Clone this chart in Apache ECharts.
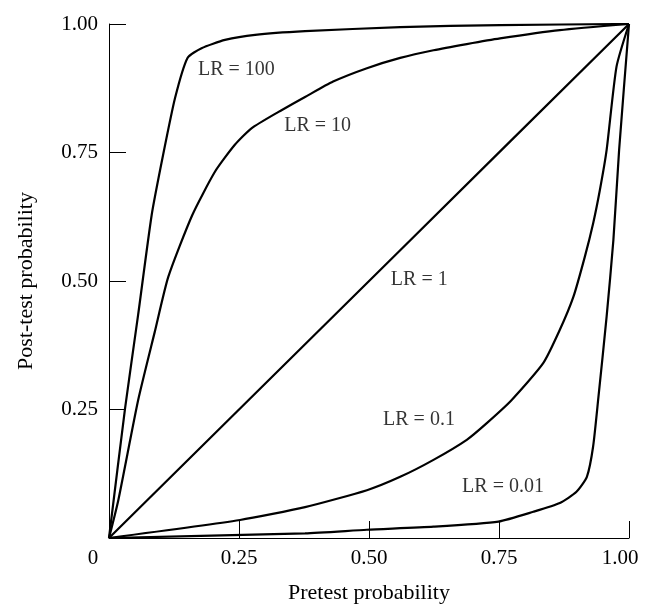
<!DOCTYPE html>
<html>
<head>
<meta charset="utf-8">
<script src="https://cdn.jsdelivr.net/npm/echarts@6/dist/echarts.min.js"></script>
<style>
  html, body { margin: 0; padding: 0; background: #fff; }
  #chart { width: 645px; height: 615px; }
</style>
</head>
<body>
<div id="chart"></div>
<script>
// [pretest, post-test] points
var lr100 = [[0, 0], [0.031, 0.253], [0.056, 0.434], [0.082, 0.628], [0.104, 0.745], [0.127, 0.856],
  [0.151, 0.934], [0.178, 0.953], [0.223, 0.969], [0.281, 0.979], [0.377, 0.986], [0.56, 0.994],
  [0.752, 0.998], [1, 1]];
var lr10 = [[0, 0], [0.018, 0.074], [0.056, 0.268], [0.088, 0.401], [0.114, 0.508], [0.16, 0.628],
  [0.204, 0.713], [0.242, 0.765], [0.274, 0.797], [0.326, 0.829], [0.377, 0.858], [0.431, 0.888],
  [0.496, 0.914], [0.56, 0.934], [0.624, 0.949], [0.688, 0.961], [0.752, 0.972], [0.867, 0.988], [1, 1]];
var lr1 = [[0, 0], [0.27, 0.27], [0.56, 0.56], [1, 1]];
var lr01 = [[0, 0], [0.252, 0.035], [0.377, 0.06], [0.496, 0.093], [0.56, 0.119], [0.624, 0.152],
  [0.688, 0.191], [0.726, 0.223], [0.774, 0.268], [0.835, 0.34], [0.867, 0.405], [0.893, 0.469],
  [0.915, 0.547], [0.931, 0.612], [0.944, 0.677], [0.957, 0.755], [0.976, 0.917], [1, 1]];
var lr001 = [[0, 0], [0.377, 0.009], [0.496, 0.016], [0.624, 0.022], [0.749, 0.032], [0.816, 0.051],
  [0.867, 0.068], [0.899, 0.09], [0.919, 0.119], [0.931, 0.178], [0.941, 0.272], [0.957, 0.431],
  [0.97, 0.58], [0.981, 0.755], [1, 1]];

var labelNames = ["LR = 100", "LR = 10", "LR = 1", "LR = 0.1", "LR = 0.01"];
var labelPos = [[0.171, 0.911], [0.337, 0.803], [0.542, 0.502], [0.527, 0.23], [0.679, 0.099]];

var xTicks = ["0", "0.25", "0.50", "0.75", "1.00"];
var yTicks = ["", "0.25", "0.50", "0.75", "1.00"];

var font = "'Liberation Serif', 'Times New Roman', serif";

var chart = echarts.init(document.getElementById("chart"));

function curve(name, data) {
  return {
    name: name,
    type: "line",
    data: data,
    symbol: "none",
    smooth: 0.2,
    lineStyle: { color: "#000", width: 2.2 },
    z: 3,
  };
}

var option = {
  backgroundColor: "#fff",
  animation: false,
  grid: { left: 109, right: 16, top: 24, bottom: 77 },
  xAxis: {
    type: "value",
    min: 0,
    max: 1,
    interval: 0.25,
    name: "Pretest probability",
    nameLocation: "middle",
    nameGap: 44,
    nameTextStyle: { color: "#000", fontFamily: font, fontSize: 22 },
    axisLine: { lineStyle: { color: "#000", width: 1 } },
    axisTick: { inside: true, length: 17, lineStyle: { color: "#000", width: 1 } },
    splitLine: { show: false },
    axisLabel: {
      margin: 10,
      color: "#000",
      fontFamily: font,
      fontSize: 21,
      formatter: function (v) {
        var t = xTicks[Math.round(v * 4)];
        if (v === 0) return "{l|" + t + "}";
        if (v === 1) return "{r|" + t + "}";
        return t;
      },
      rich: {
        l: { fontFamily: font, fontSize: 21, color: "#000", padding: [0, 32, 0, 0] },
        r: { fontFamily: font, fontSize: 21, color: "#000", padding: [0, 18, 0, 0] },
      },
    },
  },
  yAxis: {
    type: "value",
    min: 0,
    max: 1,
    interval: 0.25,
    name: "Post-test probability",
    nameLocation: "middle",
    nameGap: 72,
    nameTextStyle: { color: "#000", fontFamily: font, fontSize: 22 },
    axisLine: { show: true, lineStyle: { color: "#000", width: 1 } },
    axisTick: { show: true, inside: true, length: 17, lineStyle: { color: "#000", width: 1 } },
    splitLine: { show: false },
    axisLabel: {
      margin: 11,
      color: "#000",
      fontFamily: font,
      fontSize: 21,
      formatter: function (v) {
        return yTicks[Math.round(v * 4)];
      },
    },
  },
  series: [
    curve("LR = 100", lr100),
    curve("LR = 10", lr10),
    curve("LR = 1", lr1),
    curve("LR = 0.1", lr01),
    curve("LR = 0.01", lr001),
    {
      name: "labels",
      type: "scatter",
      symbolSize: 0,
      data: labelPos.map(function (p, i) {
        return { name: labelNames[i], value: p };
      }),
      label: {
        show: true,
        position: "inside",
        align: "left",
        verticalAlign: "middle",
        formatter: "{b}",
        color: "#000",
        fontFamily: font,
        fontSize: 20,
      },
      z: 4,
    },
  ],
};

chart.setOption(option);
</script>
</body>
</html>
